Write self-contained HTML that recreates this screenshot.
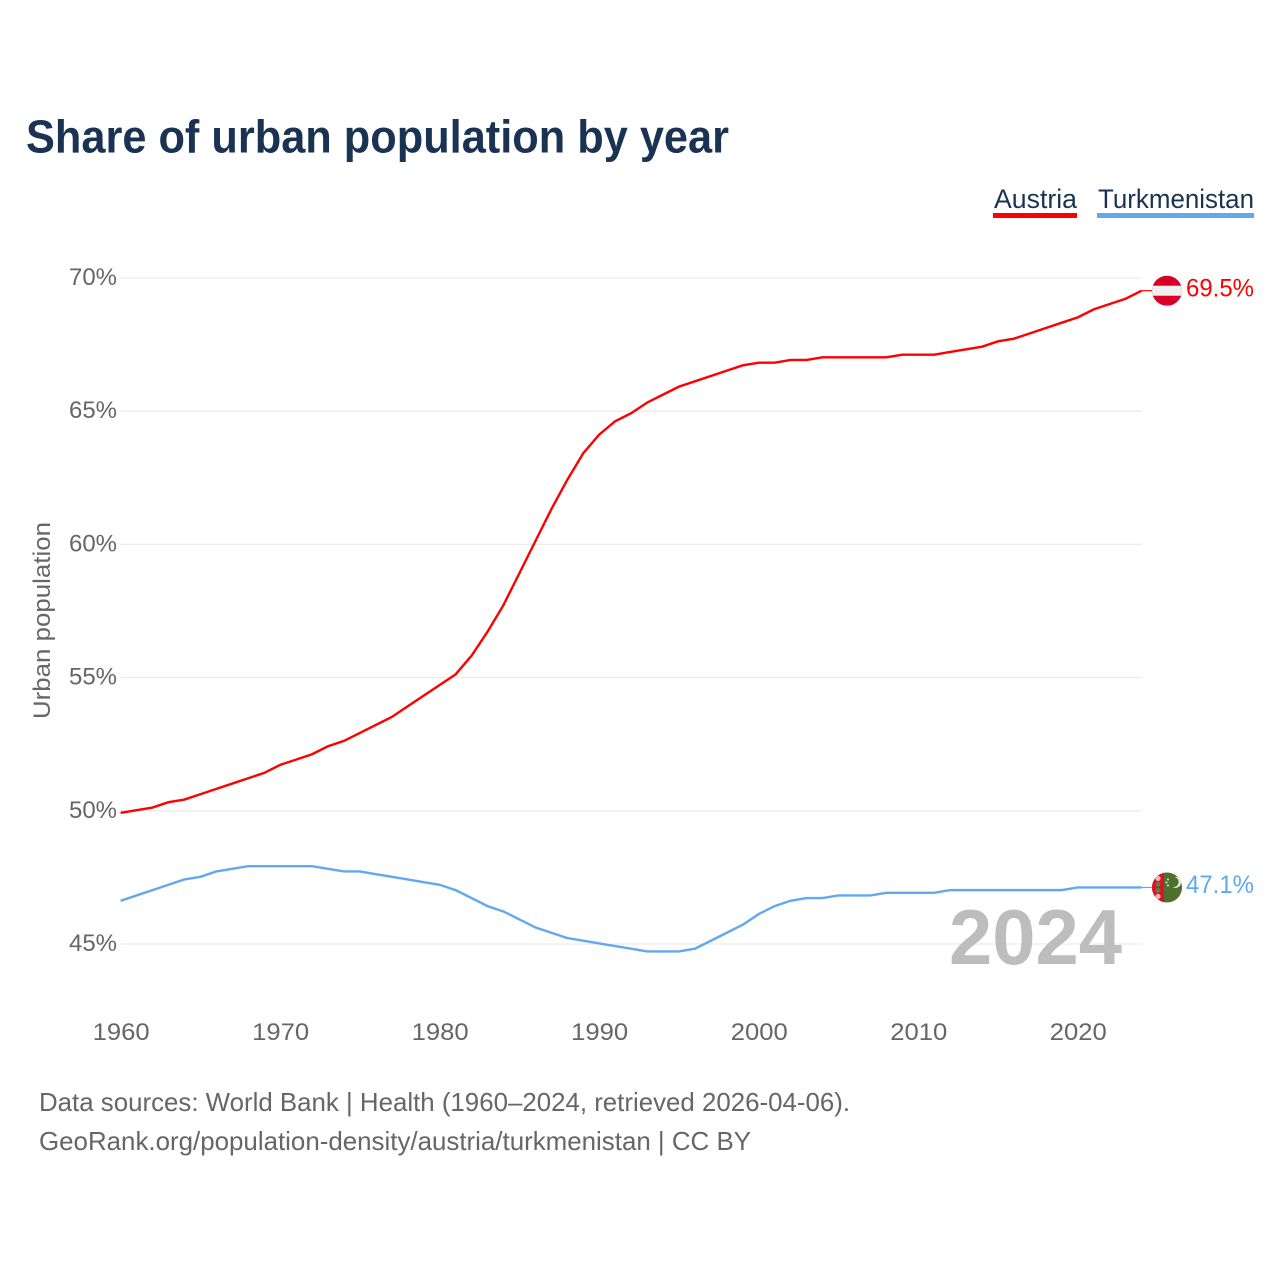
<!DOCTYPE html>
<html lang="en">
<head>
<meta charset="utf-8">
<title>Share of urban population by year</title>
<style>
html,body{margin:0;padding:0;background:#fff;}
svg{display:block;font-family:"Liberation Sans",sans-serif;}
</style>
</head>
<body>
<svg id="chart" xmlns="http://www.w3.org/2000/svg" width="1280" height="1280" viewBox="0 0 1280 1280">
  <rect x="0" y="0" width="1280" height="1280" fill="#fff"/>
  <text x="26" y="152.5" font-size="46" font-weight="700" fill="#1a3353" textLength="703" lengthAdjust="spacingAndGlyphs">Share of urban population by year</text>

  <g>
    <text x="994" y="208" font-size="27" fill="#1a3353" textLength="83" lengthAdjust="spacingAndGlyphs">Austria</text>
    <rect x="993" y="213" width="84" height="5" fill="#ff0000"/>
  </g>
  <g>
    <text x="1098" y="208" font-size="27" fill="#1a3353" textLength="156" lengthAdjust="spacingAndGlyphs">Turkmenistan</text>
    <rect x="1097" y="213" width="157" height="5" fill="#62a8ef"/>
  </g>

  <g id="grid"></g>
  <g id="yticks"></g>
  <g id="xticks"></g>
  <text transform="translate(50,620.5) rotate(-90)" text-anchor="middle" font-size="24" fill="#666" textLength="197" lengthAdjust="spacingAndGlyphs">Urban population</text>

  <text x="949" y="964" font-size="78" font-weight="700" fill="#bdbdbd" textLength="173" lengthAdjust="spacingAndGlyphs">2024</text>

  <g id="series"></g>

  <g id="flag-austria">
    <clipPath id="clip-at"><circle cx="1167" cy="0" r="15"/></clipPath>
    <g clip-path="url(#clip-at)">
      <rect x="1152" y="-15" width="30" height="30" fill="#d80027"/>
      <rect x="1152" y="-5" width="30" height="10" fill="#f0f0f0"/>
    </g>
  </g>
  <g id="flag-turkmenistan">
    <clipPath id="clip-tm"><circle cx="1167" cy="0" r="15"/></clipPath>
    <g clip-path="url(#clip-tm)">
      <rect x="1152" y="-15" width="30" height="30" fill="#4f6f2d"/>
      <rect x="1152" y="-15" width="12" height="30" fill="#e0102f"/>
      <circle cx="1158" cy="-9" r="2.6" fill="#f0b8b8"/>
      <circle cx="1158" cy="-3" r="2.4" fill="#4f8a3a"/>
      <circle cx="1158" cy="3" r="2.4" fill="#4f8a3a"/>
      <circle cx="1158" cy="9" r="2.6" fill="#f0b8b8"/>
      <path d="M1174.5 -10.5 a5.5 5.5 0 1 1 -2 10 a4.3 4.3 0 1 0 2 -10 z" fill="#e8eee0"/>
      <circle cx="1168" cy="-8" r="1" fill="#dfe6d6"/>
      <circle cx="1166.5" cy="-5" r="1" fill="#dfe6d6"/>
      <circle cx="1168" cy="-2" r="1" fill="#dfe6d6"/>
    </g>
  </g>

  <text id="value-austria" x="1186" font-size="25" fill="#ff0000" textLength="68" lengthAdjust="spacingAndGlyphs"></text>
  <text id="value-turkmenistan" x="1186" font-size="25" fill="#62a8ef" textLength="68" lengthAdjust="spacingAndGlyphs"></text>

  <text x="39" y="1111" font-size="26" fill="#666" textLength="811" lengthAdjust="spacingAndGlyphs">Data sources: World Bank | Health (1960–2024, retrieved 2026-04-06).</text>
  <text x="39" y="1150" font-size="26" fill="#666" textLength="712" lengthAdjust="spacingAndGlyphs">GeoRank.org/population-density/austria/turkmenistan | CC BY</text>
</svg>
<script>
const years = [1960,1961,1962,1963,1964,1965,1966,1967,1968,1969,1970,1971,1972,1973,1974,1975,1976,1977,1978,1979,1980,1981,1982,1983,1984,1985,1986,1987,1988,1989,1990,1991,1992,1993,1994,1995,1996,1997,1998,1999,2000,2001,2002,2003,2004,2005,2006,2007,2008,2009,2010,2011,2012,2013,2014,2015,2016,2017,2018,2019,2020,2021,2022,2023,2024];
const austria = [49.9,50.0,50.1,50.3,50.4,50.6,50.8,51.0,51.2,51.4,51.7,51.9,52.1,52.4,52.6,52.9,53.2,53.5,53.9,54.3,54.7,55.1,55.8,56.7,57.7,58.9,60.1,61.3,62.4,63.4,64.1,64.6,64.9,65.3,65.6,65.9,66.1,66.3,66.5,66.7,66.8,66.8,66.9,66.9,67.0,67.0,67.0,67.0,67.0,67.1,67.1,67.1,67.2,67.3,67.4,67.6,67.7,67.9,68.1,68.3,68.5,68.8,69.0,69.2,69.5];
const turkmenistan = [46.6,46.8,47.0,47.2,47.4,47.5,47.7,47.8,47.9,47.9,47.9,47.9,47.9,47.8,47.7,47.7,47.6,47.5,47.4,47.3,47.2,47.0,46.7,46.4,46.2,45.9,45.6,45.4,45.2,45.1,45.0,44.9,44.8,44.7,44.7,44.7,44.8,45.1,45.4,45.7,46.1,46.4,46.6,46.7,46.7,46.8,46.8,46.8,46.9,46.9,46.9,46.9,47.0,47.0,47.0,47.0,47.0,47.0,47.0,47.0,47.1,47.1,47.1,47.1,47.1];
const yTickValues = [45,50,55,60,65,70];
const xTickValues = [1960,1970,1980,1990,2000,2010,2020];

const NS = 'http://www.w3.org/2000/svg';
const xScale = function (year) { return 120.6 + (year - 1960) * (1141.6 - 120.6) / 64; };
const yScale = function (pct) { return 277.4 + (70 - pct) * (943.4 - 277.4) / 25; };

const grid = document.getElementById('grid');
const yticks = document.getElementById('yticks');
const xticks = document.getElementById('xticks');
const series = document.getElementById('series');

yTickValues.forEach(function (v) {
  const line = document.createElementNS(NS, 'line');
  
  
  line.setAttribute('x1', xScale(1960));
  line.setAttribute('x2', xScale(2024));
  line.setAttribute('y1', yScale(v) + 0.6);
  line.setAttribute('y2', yScale(v) + 0.6);
  line.setAttribute('stroke', '#ececec');
  line.setAttribute('stroke-width', '1.3');
  grid.appendChild(line);

  const label = document.createElementNS(NS, 'text');
  
  
  label.setAttribute('x', 69);
  label.setAttribute('y', yScale(v) + 7.6);
  label.setAttribute('font-size', '24');
  label.setAttribute('fill', '#666');
  label.setAttribute('textLength', '48');
  label.setAttribute('lengthAdjust', 'spacingAndGlyphs');
  label.textContent = v + '%';
  yticks.appendChild(label);
});

xTickValues.forEach(function (v) {
  const label = document.createElementNS(NS, 'text');
  
  
  label.setAttribute('x', xScale(v) - 28);
  label.setAttribute('y', 1040);
  label.setAttribute('font-size', '24');
  label.setAttribute('fill', '#666');
  label.setAttribute('textLength', '57');
  label.setAttribute('lengthAdjust', 'spacingAndGlyphs');
  label.textContent = v;
  xticks.appendChild(label);
});

function linePath(values) {
  return values.map(function (v, i) {
    return (i ? 'L' : 'M') + xScale(years[i]).toFixed(2) + ' ' + yScale(v).toFixed(2);
  }).join(' ');
}

const austriaLine = document.createElementNS(NS, 'path');


austriaLine.setAttribute('d', linePath(austria));
austriaLine.setAttribute('fill', 'none');
austriaLine.setAttribute('stroke', '#ff0000');
austriaLine.setAttribute('stroke-width', '2.4');
series.appendChild(austriaLine);

const turkmenistanLine = document.createElementNS(NS, 'path');


turkmenistanLine.setAttribute('d', linePath(turkmenistan));
turkmenistanLine.setAttribute('fill', 'none');
turkmenistanLine.setAttribute('stroke', '#62a8ef');
turkmenistanLine.setAttribute('stroke-width', '2.4');
series.appendChild(turkmenistanLine);

const lastAustria = austria[austria.length - 1];
const lastTurkmenistan = turkmenistan[turkmenistan.length - 1];

const austriaLead = document.createElementNS(NS, 'line');


austriaLead.setAttribute('x1', xScale(2024));
austriaLead.setAttribute('x2', 1154);
austriaLead.setAttribute('y1', yScale(lastAustria));
austriaLead.setAttribute('y2', yScale(lastAustria));
austriaLead.setAttribute('stroke', '#ff0000');
austriaLead.setAttribute('stroke-width', '1.2');
series.appendChild(austriaLead);

const turkmenistanLead = document.createElementNS(NS, 'line');


turkmenistanLead.setAttribute('x1', xScale(2024));
turkmenistanLead.setAttribute('x2', 1154);
turkmenistanLead.setAttribute('y1', yScale(lastTurkmenistan));
turkmenistanLead.setAttribute('y2', yScale(lastTurkmenistan));
turkmenistanLead.setAttribute('stroke', '#62a8ef');
turkmenistanLead.setAttribute('stroke-width', '1.2');
series.appendChild(turkmenistanLead);

document.getElementById('flag-austria').setAttribute('transform', 'translate(0,' + yScale(lastAustria) + ')');
document.getElementById('flag-turkmenistan').setAttribute('transform', 'translate(0,' + yScale(lastTurkmenistan) + ')');

const valueAustria = document.getElementById('value-austria');
valueAustria.setAttribute('y', yScale(lastAustria) + 5.6);
valueAustria.textContent = lastAustria.toFixed(1) + '%';
const valueTurkmenistan = document.getElementById('value-turkmenistan');
valueTurkmenistan.setAttribute('y', yScale(lastTurkmenistan) + 5.6);
valueTurkmenistan.textContent = lastTurkmenistan.toFixed(1) + '%';
</script>
</body>
</html>
